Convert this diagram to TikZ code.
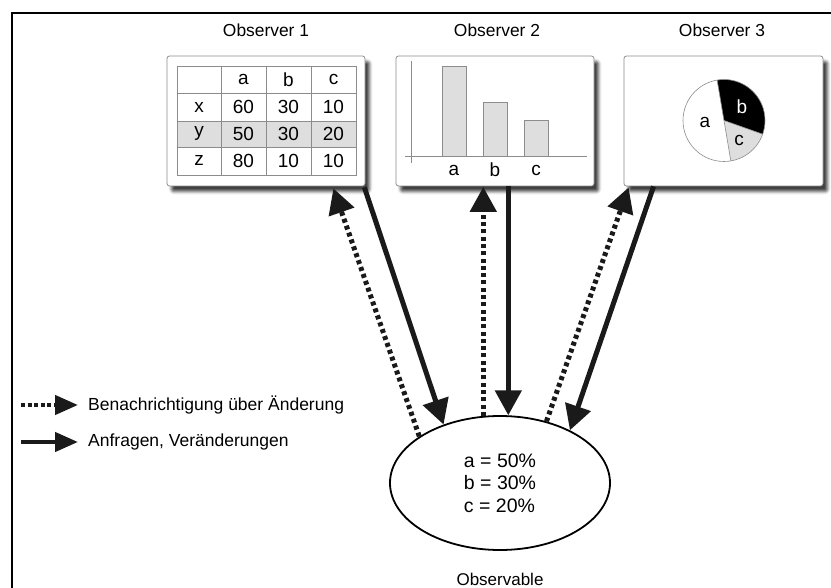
\documentclass[tikz,border=0pt]{standalone}
\usepackage{fontspec}
\setmainfont{Liberation Sans}
\usetikzlibrary{arrows.meta,shapes.geometric,calc,shadows.blur}
\definecolor{ink}{HTML}{1A1A1A}
\definecolor{cellgray}{HTML}{DEDEDE}
\definecolor{rulegray}{HTML}{8C8C8C}

\begin{document}
\begin{tikzpicture}[x=1pt,y=-1pt,
  obsbox/.style={draw=rulegray, line width=0.8pt, fill=white, rounded corners=2.5pt,
    inner sep=0pt, blur shadow={shadow xshift=4.5pt, shadow yshift=-5.5pt,
    shadow blur radius=3pt, shadow opacity=75}},
  title/.style={font=\fontsize{17.4}{20}\selectfont, inner sep=0pt},
  cell/.style={font=\fontsize{19}{21}\selectfont, inner sep=0pt},
  grid/.style={draw=rulegray, line width=0.7pt},
  bar/.style={draw=rulegray, fill=cellgray, line width=0.7pt},
  req/.style={draw=ink, line width=5pt, -{Triangle[length=25pt,width=26pt]}},
  notif/.style={req, dash pattern=on 4pt off 3.3pt},
  legreq/.style={draw=ink, line width=4.4pt, -{Triangle[length=23pt,width=19pt]}},
  legnotif/.style={legreq, dash pattern=on 4pt off 2.6pt},
  legtext/.style={font=\fontsize{17.5}{20}\selectfont, inner sep=0pt, anchor=west}]

\useasboundingbox (0,0) rectangle (831,588);

% outer frame (left and top edges)
\draw[line width=1.8pt, line cap=rect] (12,590) -- (12,13) -- (833,13);

% titles
\node[title] (t1) at (266,30.5) {Observer 1};
\node[title] (t2) at (497,30.5) {Observer 2};
\node[title] (t3) at (722,30.5) {Observer 3};

% observer panels
\node[obsbox, minimum width=198pt, minimum height=130pt] (o1) at (266,121) {};
\node[obsbox, minimum width=198pt, minimum height=130pt] (o2) at (495,121) {};
\node[obsbox, minimum width=199pt, minimum height=130pt] (o3) at (723.5,121) {};

% --- table ---
\fill[cellgray] (177,121) rectangle (356,147);
\draw[grid] (177,66) rectangle (356,175);
\foreach \xv in {221,266,311} \draw[grid] (\xv,66) -- (\xv,175);
\foreach \yv in {93,121,147} \draw[grid] (177,\yv) -- (356,\yv);
\node[cell] (ha) at (243.5,79.5) {a};
\node[cell] (hb) at (288.5,79.5) {b};
\node[cell] (hc) at (333.5,79.5) {c};
\node[cell] (rx) at (199,107) {x};
\node[cell] (x1) at (243.5,107) {60};
\node[cell] (x2) at (288.5,107) {30};
\node[cell] (x3) at (333.5,107) {10};
\node[cell] (ry) at (199,133.5) {y};
\node[cell] (y1) at (243.5,134) {50};
\node[cell] (y2) at (288.5,134) {30};
\node[cell] (y3) at (333.5,134) {20};
\node[cell] (rz) at (199,160) {z};
\node[cell] (z1) at (243.5,161) {80};
\node[cell] (z2) at (288.5,161) {10};
\node[cell] (z3) at (333.5,161) {10};

% --- bar chart ---
\draw[bar] (442,66) rectangle (466,156);
\draw[bar] (483,102) rectangle (507,156);
\draw[bar] (524,120) rectangle (548,156);
\draw[grid] (411,61) -- (411,163);
\draw[grid] (405,156) -- (587,156);
\node[cell] (ba) at (454,170) {a};
\node[cell] (bb) at (495,170) {b};
\node[cell] (bc) at (536,170) {c};

% --- pie chart ---
\coordinate (pc) at (724,120.5);
\fill[black] (pc) -- ++(-99.6:41) arc[start angle=-99.6, end angle=19.5, radius=41] -- cycle;
\fill[cellgray] (pc) -- ++(19.5:41) arc[start angle=19.5, end angle=80.4, radius=41] -- cycle;
\draw[rulegray, line width=0.6pt] (pc) circle[radius=41];
\draw[rulegray, line width=0.6pt] ($(pc)+(-99.6:41)$) -- ($(pc)+(80.4:41)$);
\draw[rulegray, line width=0.6pt] (pc) -- ++(19.5:41);
\node[cell] (pa) at (705,122) {a};
\node[cell, text=white] (pb) at (742,107) {b};
\node[cell] (pcl) at (739,140) {c};

% --- observable ---
\node[ellipse, draw=black, line width=1.8pt, minimum width=220pt, minimum height=134pt,
  inner sep=0pt, align=left, font=\fontsize{19.5}{22.5}\selectfont] (obs) at (500,483)
  {a = 50\%\\b = 30\%\\c = 20\%};
\node[title, font=\fontsize{17}{19}\selectfont] (obsl) at (500,579) {Observable};

% --- connectors ---
\draw[notif] (obs.150) -- ($(o1.south east)+(-32,2)$);
\draw[req] ($(o1.south east)+(-1,1)$) -- (obs.134);
\draw[notif] (obs.104) -- ($(obs.104 |- o2.south)+(0,0.5)$);
\draw[req] (obs.83 |- o2.south) -- (obs.83);
\draw[notif] (obs.53) -- ($(o3.south west)+(5,1)$);
\draw[req] ($(o3.south west)+(30,0)$) -- (obs.37);

% --- legend ---
\node[legtext] (l1) at (88,405) {Benachrichtigung über Änderung};
\node[legtext] (l2) at (88,442) {Anfragen, Veränderungen};
\coordinate (l1s) at (21,405);
\coordinate (l2s) at (21,442);
\draw[legnotif] (l1s) -- ($(l1.west)+(-10,0)$);
\draw[legreq] (l2s) -- ($(l2.west)+(-10,0)$);
\end{tikzpicture}
\end{document}
